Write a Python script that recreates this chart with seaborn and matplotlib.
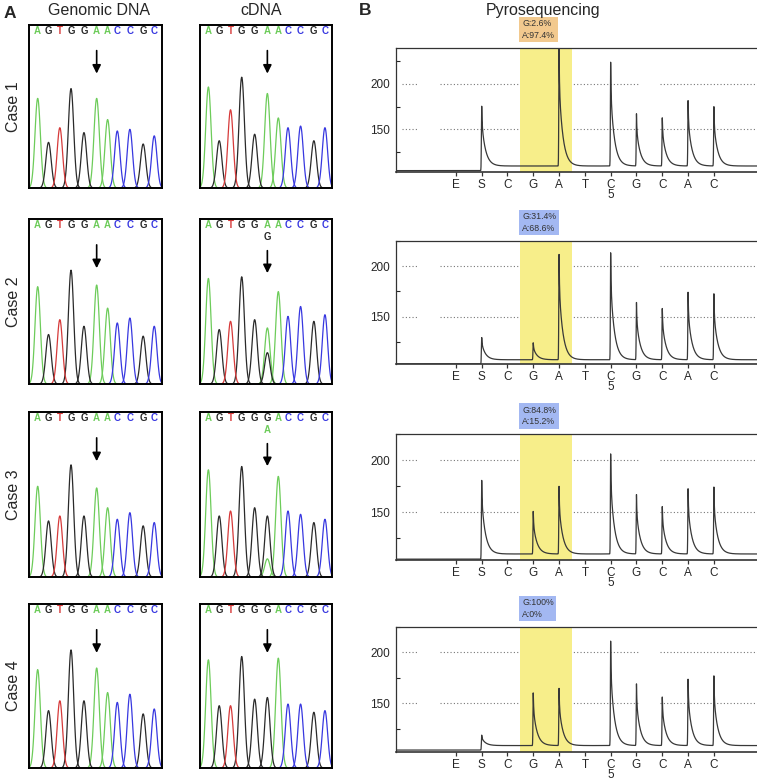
import numpy as np
import pandas as pd
import matplotlib
matplotlib.use("Agg")
import matplotlib.pyplot as plt
import seaborn as sns

sns.set_style("ticks")
plt.rcParams['font.family'] = ['Liberation Sans', 'DejaVu Sans']

W, H = 757, 780

# ---------------- data: panel A (Sanger chromatograms) ----------------
cases = ["Case 1", "Case 2", "Case 3", "Case 4"]
gdna_seq = ["AGTGGAACCGC"] * 4
cdna_seq = ["AGTGGAACCGC", "AGTGGAACCGC", "AGTGGGACCGC", "AGTGGGACCGC"]
cdna_alt = [None, "G", "A", None]          # secondary call at the arrow
peak_pos = [0, 0.93, 1.9, 2.86, 3.97, 5.06, 6.0, 6.83, 7.91, 9.05, 10]

gdna_heights = [
    [0.55, 0.28, 0.37, 0.61, 0.34, 0.55, 0.42, 0.35, 0.36, 0.27, 0.32],
    [0.59, 0.30, 0.39, 0.69, 0.35, 0.60, 0.46, 0.37, 0.40, 0.29, 0.35],
    [0.55, 0.34, 0.37, 0.68, 0.37, 0.54, 0.42, 0.35, 0.39, 0.31, 0.33],
    [0.60, 0.35, 0.41, 0.72, 0.41, 0.61, 0.46, 0.40, 0.45, 0.33, 0.36],
]
cdna_heights = [
    [0.62, 0.29, 0.48, 0.68, 0.33, 0.58, 0.43, 0.37, 0.38, 0.29, 0.37],
    [0.64, 0.33, 0.38, 0.65, 0.39, 0.34, 0.56, 0.41, 0.47, 0.38, 0.42],
    [0.65, 0.37, 0.40, 0.67, 0.42, 0.37, 0.61, 0.40, 0.38, 0.33, 0.35],
    [0.66, 0.38, 0.38, 0.68, 0.42, 0.43, 0.67, 0.39, 0.39, 0.34, 0.35],
]
cdna_minor = [0.0, 0.19, 0.11, 0.0]        # second-allele peak under the arrow
variant_idx = 5

base_colors = {"A": "#6dcc5a", "G": "#2a2a2a", "T": "#d63a3a", "C": "#3838e0"}

# ---------------- data: panel B (pyrosequencing) ----------------
disp_labels = ["E", "S", "C", "G", "A", "T", "C\n5", "G", "C", "A", "C"]
pyro_base_left = [104.4, 103.5, 105.0, 104.4]
pyro_base = [109.5, 107.6, 110.0, 108.8]
pyro_peaks = [
    [None, 180, None, None, 239, None, 225, 167, 164, 182, 175],
    [None, 131, None, 124.5, 211.5, None, 214, 164, 159.4, 174.5, 172.7],
    [None, 185.6, None, 151.4, 175, None, 207, 167, 156.7, 173, 174.4],
    [None, 119.7, None, 160.9, 164.7, None, 211.8, 169, 157.4, 174, 177],
]
pyro_ylim = [(103.2, 240), (103.1, 215.5), (104.2, 208.9), (102.8, 213.2)]
g_pct = ["2.6%", "31.4%", "84.8%", "100%"]
a_pct = ["97.4%", "68.6%", "15.2%", "0%"]
box_colors = ["#f2c98e", "#a3b8f2", "#a3b8f2", "#a3b8f2"]

fig = plt.figure(figsize=(W / 100, H / 100), dpi=100)


def px_axes(x0, y0, x1, y1):
    return fig.add_axes([x0 / W, 1 - y1 / H, (x1 - x0) / W, (y1 - y0) / H])


def chrom_frame(seq, heights, minor_base=None, minor_h=0.0):
    rows = []
    for i, (b, h) in enumerate(zip(seq, heights)):
        xs = peak_pos[i] + np.linspace(-0.75, 0.75, 61)
        rows.append(pd.DataFrame({"x": xs, "y": h * np.exp(-0.5 * ((xs - peak_pos[i]) / 0.23) ** 2),
                                  "base": b, "peak": i}))
    if minor_base and minor_h > 0:
        p = peak_pos[variant_idx]
        xs = p + np.linspace(-0.75, 0.75, 61)
        rows.append(pd.DataFrame({"x": xs, "y": minor_h * np.exp(-0.5 * ((xs - p) / 0.23) ** 2),
                                  "base": minor_base, "peak": 99}))
    return pd.concat(rows, ignore_index=True)


def draw_chrom(ax, seq, heights, alt=None, minor_h=0.0):
    df = chrom_frame(seq, heights, alt, minor_h)
    sns.lineplot(data=df, x="x", y="y", hue="base", units="peak", estimator=None,
                 palette=base_colors, legend=False, lw=0.9, ax=ax)
    ax.set_xlim(-0.72, 10.64)
    ax.set_ylim(0, 1)
    ax.set_xticks([])
    ax.set_yticks([])
    ax.set_xlabel("")
    ax.set_ylabel("")
    for s in ax.spines.values():
        s.set_visible(True)
        s.set_color("black")
        s.set_linewidth(1.4)
    for i, b in enumerate(seq):
        ax.text(peak_pos[i], 0.963, b, color=base_colors[b], ha="center", va="center",
                fontsize=7, fontweight="bold")
    xa = peak_pos[variant_idx]
    if alt:
        ax.text(xa, 0.893, alt, color=base_colors[alt], ha="center", va="center",
                fontsize=7, fontweight="bold")
        y0, y1 = 0.825, 0.655
    else:
        y0, y1 = 0.86, 0.685
    ax.annotate("", xy=(xa, y1), xytext=(xa, y0),
                arrowprops=dict(arrowstyle="-|>,head_length=0.5,head_width=0.25",
                                color="black", lw=1.2, mutation_scale=10))


chrom_rows = [(25, 188), (219, 384), (412, 577), (604, 768)]
for k, (top, bot) in enumerate(chrom_rows):
    ax_g = px_axes(29.3, top, 161.7, bot)
    draw_chrom(ax_g, gdna_seq[k], gdna_heights[k])
    ax_c = px_axes(200, top, 332.4, bot)
    draw_chrom(ax_c, cdna_seq[k], cdna_heights[k], cdna_alt[k], cdna_minor[k])
    fig.text(13 / W, 1 - (top + bot) / 2 / H, cases[k], rotation=90, ha="center",
             va="center", fontsize=11.5)


# ---------------- panel B ----------------
def pyro_trace(k, xs):
    ys = np.where(xs < 2, pyro_base_left[k], pyro_base[k]).astype(float)
    for i, top in enumerate(pyro_peaks[k]):
        if top is None:
            continue
        p = i + 1
        amp = top - pyro_base[k]
        d = xs - p
        shape = np.where(d >= 0, 0.3 * np.exp(-d / 0.015) + 0.7 * np.exp(-d / 0.15),
                         np.exp(-(d / 0.015) ** 2))
        ys = ys + amp * shape
    return ys


pyro_rows = [(47.7, 171.7), (240.7, 364.3), (434.3, 560), (626.7, 751.7)]
xs = np.linspace(-1.33, 12.67, 4000)
grid_segs = [(-1.09, -0.45), (0.39, 8.14), (8.92, 12.67)]
for k, (top, bot) in enumerate(pyro_rows):
    ax = px_axes(395.7, top, 757, bot)
    sns.lineplot(x=xs, y=pyro_trace(k, xs), color="#383838", lw=0.9, ax=ax,
                 estimator=None, zorder=3)
    ax.set_xlim(-1.33, 12.67)
    ax.set_ylim(*pyro_ylim[k])
    for gy in (150, 200):
        for a, b in grid_segs:
            ax.hlines(gy, a, b, colors="#777777", linestyles=(0, (1, 2)), lw=0.8, zorder=1)
    ax.axvspan(3.5, 5.5, color="#f7ee8a", zorder=2, lw=0)
    ax.set_xticks(range(1, 12))
    ax.set_xticklabels(disp_labels, fontsize=8.5, linespacing=0.78)
    ax.set_yticks([150, 200])
    ax.set_yticklabels(["150", "200"], fontsize=8.5)
    ax.set_yticks([125, 175, 225], minor=True)
    ax.tick_params(axis="y", which="major", length=0, pad=4)
    ax.tick_params(axis="y", which="minor", direction="in", length=3, width=0.8)
    ax.tick_params(axis="x", length=3, width=0.9, pad=2, color="#333333")
    for side in ("top", "left", "bottom"):
        ax.spines[side].set_visible(True)
        ax.spines[side].set_color("#333333")
        ax.spines[side].set_linewidth(0.9)
    ax.spines["bottom"].set_linewidth(1.2)
    ax.spines["right"].set_visible(False)
    ax.annotate("G:%s\nA:%s" % (g_pct[k], a_pct[k]), xy=(3.45, 1),
                xycoords=("data", "axes fraction"), xytext=(3, 8),
                textcoords="offset pixels", ha="left", va="bottom", fontsize=6.3,
                linespacing=1.35, color="#333333",
                bbox=dict(boxstyle="square,pad=0.3", fc=box_colors[k], ec="none"))

# ---------------- titles ----------------
fig.text(9.5 / W, 1 - 18.3 / H, "A", fontsize=12.5, fontweight="bold", ha="center", va="baseline")
fig.text(365.5 / W, 1 - 15 / H, "B", fontsize=12.5, fontweight="bold", ha="center", va="baseline")
fig.text(98.5 / W, 1 - 15 / H, "Genomic DNA", fontsize=11.5, ha="center", va="baseline")
fig.text(261.5 / W, 1 - 15 / H, "cDNA", fontsize=11.5, ha="center", va="baseline")
fig.text(543 / W, 1 - 14.5 / H, "Pyrosequencing", fontsize=11.5, ha="center", va="baseline")

fig.savefig("out.png", dpi=100)
